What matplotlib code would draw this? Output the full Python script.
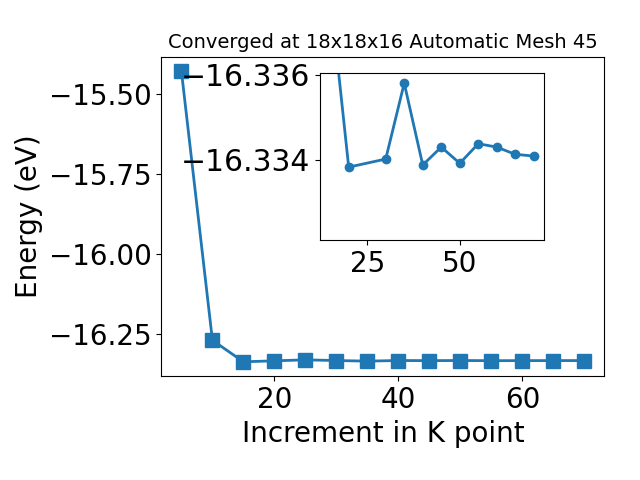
import matplotlib
matplotlib.use("Agg")
import matplotlib.pyplot as plt

kpoints = [5, 10, 15, 20, 25, 30, 35, 40, 45, 50, 55, 60, 65, 70]
energies = [-15.4275, -16.2705, -16.3379, -16.3349, -16.3318, -16.3340, -16.3358,
            -16.3339, -16.3343, -16.3339, -16.3344, -16.3343, -16.3341, -16.3341]

inset_k = [15, 20, 30, 35, 40, 45, 50, 55, 60, 65, 70]
inset_e = [-16.3379, -16.33383, -16.33402, -16.33580, -16.33388, -16.33430,
           -16.33392, -16.33438, -16.33430, -16.33413, -16.33409]

title = "Converged at 18x18x16 Automatic Mesh 45"

fig = plt.figure(figsize=(6.4, 4.8), dpi=100)
ax = fig.add_axes([0.252, 0.216, 0.6925, 0.666])
ax.plot(kpoints, energies, marker="s", markersize=10, linewidth=2, color="#1f77b4")
ax.set_xlabel("Increment in K point", fontsize=20)
ax.set_ylabel("Energy (eV)", fontsize=20)
ax.set_title(title, fontsize=14)
ax.tick_params(labelsize=20)
ax.set_xticks([20, 40, 60])
ax.set_yticks([-15.50, -15.75, -16.00, -16.25])

ins = fig.add_axes([0.5, 0.5, 0.35, 0.348])
ins.plot(inset_k, inset_e, marker="o", markersize=6, linewidth=2, color="#1f77b4")
ins.set_ylim(-16.33212, -16.33604)
ins.set_xticks([25, 50])
ins.set_yticks([-16.336, -16.334])
ins.tick_params(axis="x", labelsize=20)
ins.tick_params(axis="y", labelsize=21.5)
ins.ticklabel_format(axis="y", useOffset=False)

fig.savefig("out.png", dpi=100)
